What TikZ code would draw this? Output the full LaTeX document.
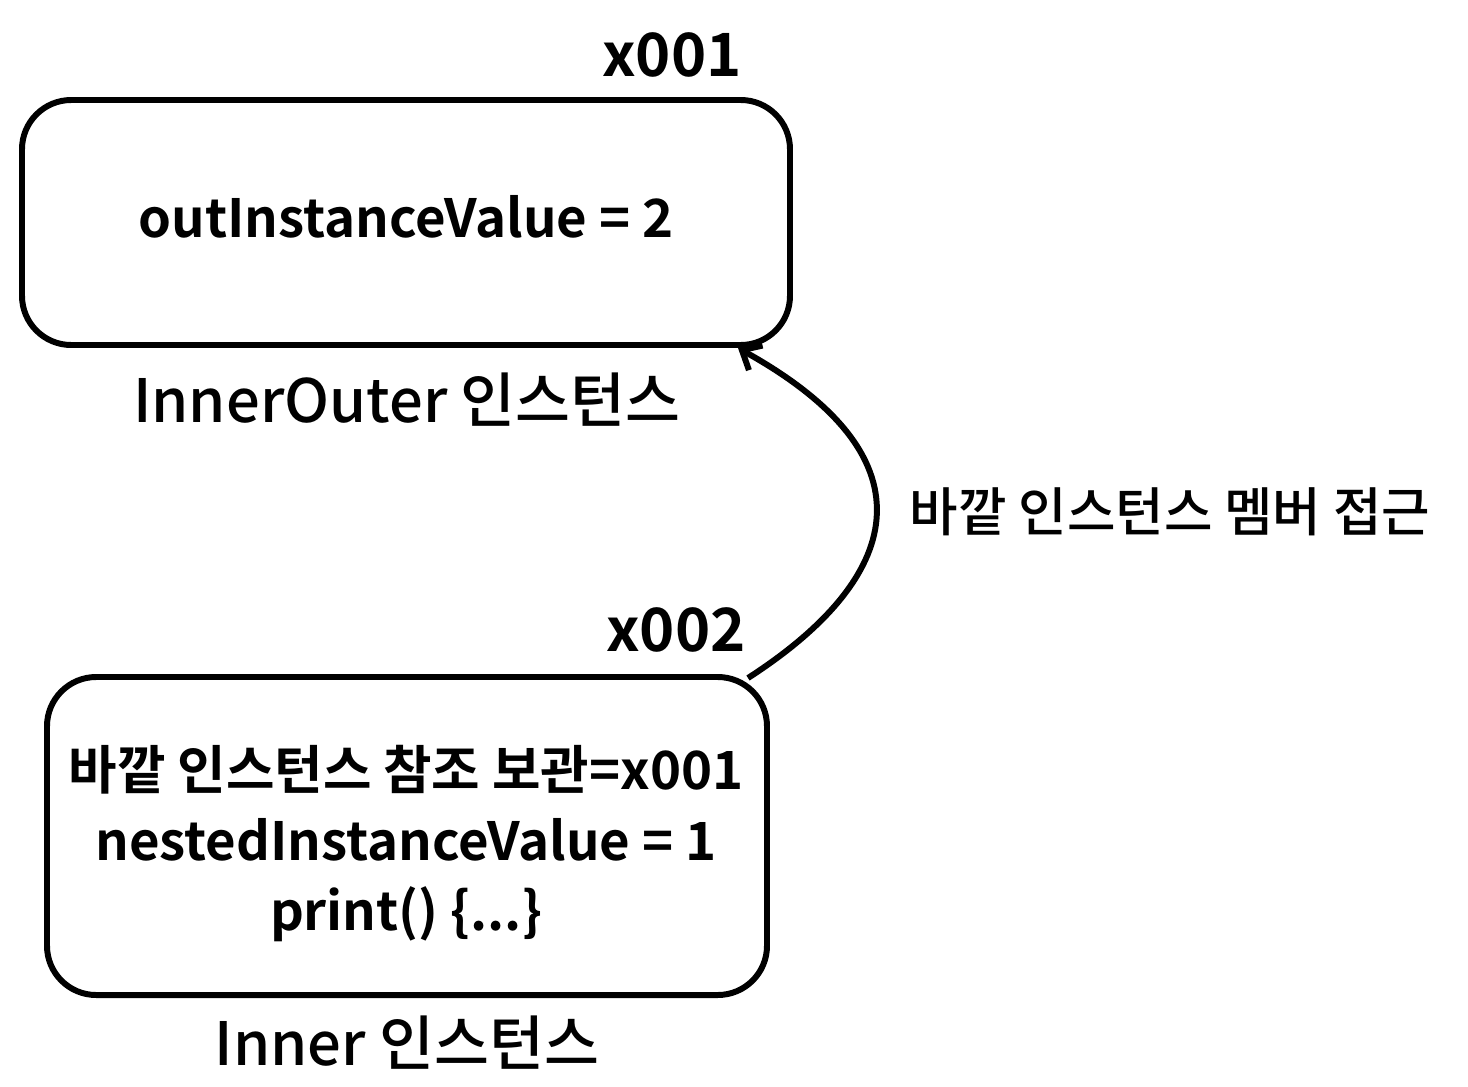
\documentclass[tikz,border=0pt]{standalone}
\usepackage{fontspec}
\usetikzlibrary{arrows.meta}
\setmainfont{Noto Sans CJK KR}[BoldFont={* Bold}]
\newfontfamily\medfont{Noto Sans CJK KR Medium}
\begin{document}
\begin{tikzpicture}[x=0.02cm,y=-0.02cm,
  box/.style={draw,line width=3.4pt,rounded corners=28pt},
  big/.style={font=\fontsize{30}{40}\selectfont\bfseries},
  addr/.style={font=\fontsize{34}{40}\selectfont\bfseries},
  caption/.style={font=\fontsize{34}{40}\selectfont\medfont}]
\useasboundingbox (0,0) rectangle (1468,1086);
\draw[box] (22,100) rectangle (790,345);
\draw[box] (47,677) rectangle (767,995);
\node[big] (t1) at (406,217) {outInstanceValue = 2};
\node[addr] (a1) at (672,55) {x001};
\node[caption] (l1) at (407,400) {InnerOuter 인스턴스};
\node[addr] (a2) at (676,630) {x002};
\node[big,align=center,text depth=0pt] (t2) at (406,838) {바깥 인스턴스 참조 보관=x001\\[0pt]nestedInstanceValue = 1\\[0pt]print() \{...\}};
\node[caption] (l2) at (407,1043) {Inner 인스턴스};
\coordinate (s) at (748,678);
\coordinate (e) at (738,348);
\draw[line width=3.4pt,->,>={Straight Barb[length=9pt,width=16pt]}] (s) .. controls (900,580) and (940,460) .. (e);
\node[font=\fontsize{30}{36}\selectfont\medfont] (lb) at (1170,512) {바깥 인스턴스 멤버 접근};
\end{tikzpicture}
\end{document}
